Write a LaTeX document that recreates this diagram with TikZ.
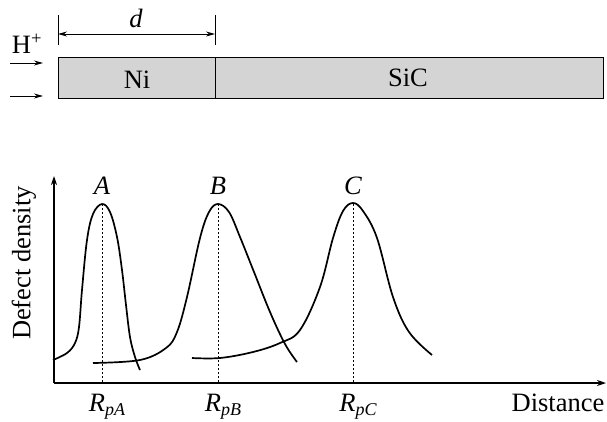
\documentclass[tikz,border=0pt]{standalone}
\usepackage{fontspec}
\setmainfont{Liberation Serif}
\usetikzlibrary{arrows.meta}
\begin{document}
\begin{tikzpicture}[x=1pt,y=-1pt,font=\fontsize{26.5}{30}\selectfont]
\definecolor{layergray}{RGB}{212,212,212}
\tikzset{
  layer/.style={draw,fill=layergray,line width=.9pt,minimum height=41pt,inner sep=0pt,anchor=north west},
  curve/.style={line width=1.7pt,smooth,tension=.6},
  axis/.style={line width=1.3pt,-{Stealth[length=9pt,width=6pt]}},
  thin arrow/.style={line width=.9pt,-{Stealth[length=9pt,width=5pt]}},
  peakline/.style={line width=.9pt,dash pattern=on 2pt off 2pt},
  itlabel/.style={font=\fontsize{26.5}{30}\selectfont\itshape}
}
\useasboundingbox (0,0) rectangle (607,421);
% sample: Ni layer on SiC
\node[layer,minimum width=157pt] (ni) at (58,57) {};
\node[layer,minimum width=388pt] (sic) at (215,57) {};
\node (nitext) at (137,80) {Ni};
\node (sictext) at (408,78) {SiC};
% thickness d
\coordinate (dl) at (58,15);
\coordinate (dr) at (215,15);
\draw[line width=.9pt] (dl) -- (58,45) (dr) -- (215,45);
\draw[line width=.9pt,{Stealth[length=9pt,width=5pt]}-{Stealth[length=9pt,width=5pt]}] (58,34) -- (215,34);
\node[itlabel] (dtext) at (136,18) {d};
% incoming protons
\node (hplus) at (27,44) {H\textsuperscript{+}};
\coordinate (in1) at (10,63);
\coordinate (out1) at (43,63);
\coordinate (in2) at (10,96);
\coordinate (out2) at (43,96);
\draw[thin arrow] (in1) -- (out1);
\draw[thin arrow] (in2) -- (out2);
% axes
\coordinate (o) at (54,383);
\coordinate (ytop) at (54,176);
\coordinate (xend) at (606,383);
\draw[axis] (o) -- (ytop);
\draw[axis] (o) -- (xend);
\node[rotate=90] (ylab) at (24,263) {Defect density};
\node (xlab) at (558,403) {Distance};
% peak A
\draw[curve] plot coordinates {(53,360) (67,353) (75,343) (79,327) (82,290) (87,240) (93,214) (102,204) (110,212) (117,237) (122,270) (126,305) (130,337) (135,357) (140,370)};
% peak B
\draw[curve] plot coordinates {(93,363) (140,360) (166,348) (177,332) (187,297) (200,238) (209,212) (218,204) (229,212) (240,237) (254,272) (270,312) (285,344) (297,362)};
% peak C
\draw[curve] plot coordinates {(192,358) (220,358) (253,352) (280,343) (300,330) (320,287) (333,238) (343,211) (353,203) (363,211) (377,238) (393,297) (409,332) (432,355)};
% projected ranges
\foreach \p/\x in {A/102,B/218,C/353}{
  \coordinate (pk\p) at (\x,204);
  \coordinate (rp\p) at (\x,383);
  \draw[peakline] (pk\p) -- (rp\p);
  \node[itlabel] (lab\p) at (\x,186) {\p};
  \node (rlab\p) at (\x+5,407) {\textit{R}\raisebox{-.35ex}{\fontsize{18}{20}\selectfont\textit{p\p}}};
}
\end{tikzpicture}
\end{document}
